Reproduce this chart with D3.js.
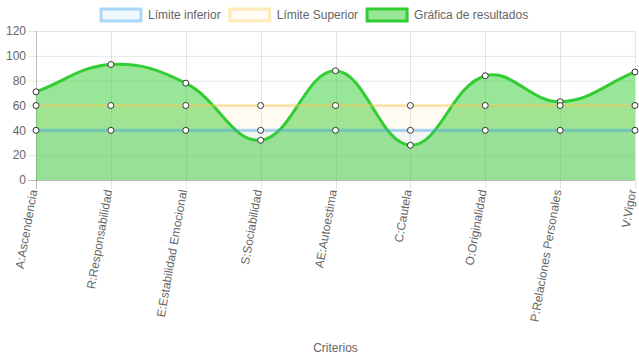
<!DOCTYPE html>
<html><head><meta charset="utf-8">
<script src="https://cdn.jsdelivr.net/npm/d3@7"></script>
<style>body{margin:0;background:#fff}svg{display:block}text{font-family:"Liberation Sans",Arial,sans-serif;fill:#666;font-size:12px}</style>
</head><body><svg id="c" width="639" height="360"></svg>
<script>
const categories = ["A:Ascendencia","R:Responsabilidad","E:Estabilidad Emocional","S:Sociabilidad","AE:Autoestima","C:Cautela","O:Originalidad","P:Relaciones Personales","V:Vigor"];
const limiteInferior = [40,40,40,40,40,40,40,40,40];
const limiteSuperior = [60,60,60,60,60,60,60,60,60];
const resultados = [71,93,78,32,88,28,84,63,87];
const yTicks = [0,20,40,60,80,100,120];
const seriesNames = ["Límite inferior","Límite Superior","Gráfica de resultados"];
const strokes = ["rgba(54,162,235,0.4)","rgba(255,205,86,0.4)","#32cd32"];
const fills = ["rgba(54,162,235,0.06)","rgba(255,205,86,0.07)","rgba(50,205,50,0.5)"];

(function(){
const svg = d3.select("#c");
const pl=36,pr=635,pt=31,pb=180;
const x = d3.scalePoint().domain(categories).range([pl,pr]);
const y = d3.scaleLinear().domain([0,120]).range([pb,pt]);

const g = svg.append("g");
yTicks.forEach(t=>{
  g.append("line").attr("x1",pl-8).attr("x2",pr).attr("y1",y(t)+0.5).attr("y2",y(t)+0.5)
   .attr("stroke", t===0?"rgba(0,0,0,0.25)":"rgba(0,0,0,0.1)");
  g.append("text").attr("x",pl-10).attr("y",y(t)).attr("dy","0.35em").attr("text-anchor","end").text(t);
});
categories.forEach((c,i)=>{
  const xx=Math.round(x(c))+0.5;
  g.append("line").attr("x1",xx).attr("x2",xx).attr("y1",pt).attr("y2",pb+9)
   .attr("stroke", i===0?"rgba(0,0,0,0.25)":"rgba(0,0,0,0.1)");
  g.append("text").attr("transform",`translate(${x(c)-1},${pb+10}) rotate(-80)`)
   .attr("text-anchor","end").attr("dy","0.2em").text(c);
});

function splinePath(vals, closeToZero){
  const pts = vals.map((v,i)=>({x:x(categories[i]),y:y(v)}));
  const t=0.4;
  pts.forEach((p,i)=>{
    const prev=pts[i-1]||p, next=pts[i+1]||p;
    const d01=Math.hypot(p.x-prev.x,p.y-prev.y), d12=Math.hypot(next.x-p.x,next.y-p.y);
    let s01=d01/(d01+d12), s12=d12/(d01+d12);
    if(isNaN(s01))s01=0; if(isNaN(s12))s12=0;
    const fa=t*s01, fb=t*s12;
    p.cpx1=p.x-fa*(next.x-prev.x); p.cpy1=p.y-fa*(next.y-prev.y);
    p.cpx2=p.x+fb*(next.x-prev.x); p.cpy2=p.y+fb*(next.y-prev.y);
    const cl=(v,a,b)=>Math.max(a,Math.min(b,v));
    p.cpx1=cl(p.cpx1,pl,pr);p.cpx2=cl(p.cpx2,pl,pr);
    p.cpy1=cl(p.cpy1,pt,pb);p.cpy2=cl(p.cpy2,pt,pb);
  });
  const path=d3.path();
  path.moveTo(pts[0].x,pts[0].y);
  for(let i=1;i<pts.length;i++){
    const a=pts[i-1],b=pts[i];
    path.bezierCurveTo(a.cpx2,a.cpy2,b.cpx1,b.cpy1,b.x,b.y);
  }
  if(closeToZero){
    path.lineTo(pts[pts.length-1].x,y(0));
    path.lineTo(pts[0].x,y(0));
    path.closePath();
  }
  return path.toString();
}
const data=[limiteInferior,limiteSuperior,resultados];
[2,1,0].forEach(i=>{
  svg.append("path").attr("d",splinePath(data[i],true)).attr("fill",fills[i]).attr("stroke","none");
});
[2,1,0].forEach(i=>{
  svg.append("path").attr("d",splinePath(data[i],false)).attr("fill","none").attr("stroke",strokes[i]).attr("stroke-width",3);
});
[2,1,0].forEach(i=>{
  svg.append("g").selectAll("circle").data(data[i]).join("circle")
   .attr("cx",(d,j)=>x(categories[j])).attr("cy",d=>y(d)).attr("r",3)
   .attr("fill","#fff").attr("stroke","#333").attr("stroke-width",1);
});

const legendFills=["rgba(54,162,235,0.08)","rgba(255,205,86,0.08)","rgba(50,205,50,0.5)"];
const lg=svg.append("g");
let lx=101;
seriesNames.forEach((n,i)=>{
  lg.append("rect").attr("x",lx).attr("y",9).attr("width",40).attr("height",12)
   .attr("fill",legendFills[i]).attr("stroke",strokes[i]).attr("stroke-width",3);
  const tx=lg.append("text").attr("x",lx+47).attr("y",15).attr("dy","0.35em").text(n);
  lx += 47 + tx.node().getComputedTextLength() + 9;
});

svg.append("text").attr("x",(pl+pr)/2).attr("y",348).attr("dy","0.35em").attr("text-anchor","middle").text("Criterios");
})();
</script></body></html>
